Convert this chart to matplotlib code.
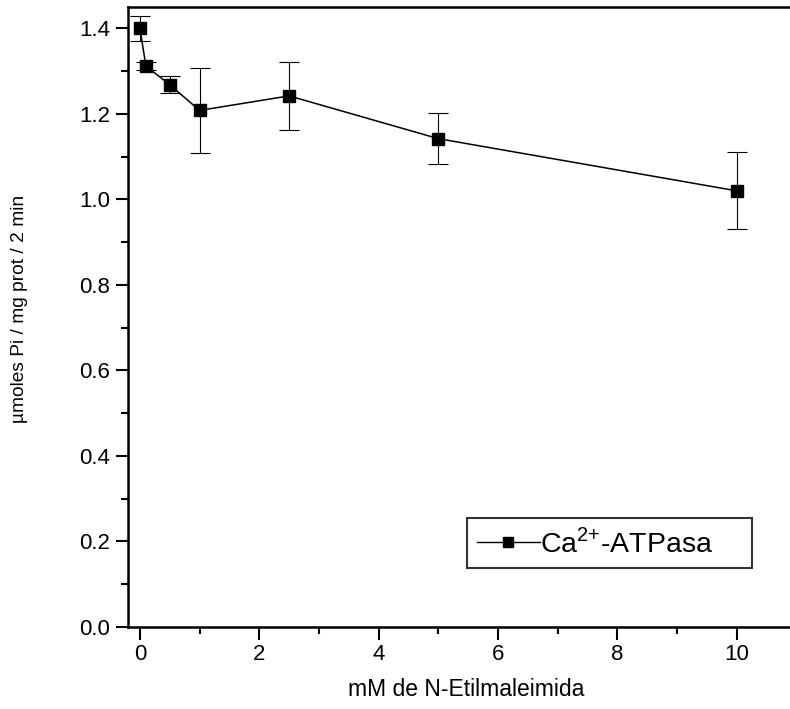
import matplotlib.pyplot as plt
from matplotlib.lines import Line2D
from matplotlib.ticker import MultipleLocator

plt.rcParams['font.family'] = ['Liberation Sans', 'DejaVu Sans']

# N-ethylmaleimide concentration (mM) and Ca2+-ATPase activity
nem_mM = [0, 0.1, 0.5, 1, 2.5, 5, 10]
activity = [1.40, 1.312, 1.268, 1.208, 1.242, 1.142, 1.020]
activity_err = [0.03, 0.01, 0.02, 0.10, 0.08, 0.06, 0.09]

fig = plt.figure(figsize=(7.9, 7.09), dpi=100)
ax = fig.add_axes([0.162, 0.1157, 0.846, 0.8745])

ax.errorbar(nem_mM, activity, yerr=activity_err, color='black', lw=1.1,
            marker='s', markersize=9, capsize=7, elinewidth=0.8, capthick=0.8)

ax.set_xlim(-0.2, 11.0)
ax.set_ylim(0.0, 1.45)
ax.xaxis.set_major_locator(MultipleLocator(2))
ax.xaxis.set_minor_locator(MultipleLocator(1))
ax.yaxis.set_major_locator(MultipleLocator(0.2))
ax.yaxis.set_minor_locator(MultipleLocator(0.1))
ax.yaxis.set_major_formatter(plt.FormatStrFormatter('%.1f'))

ax.tick_params(which='major', direction='out', length=9, width=1.5,
               labelsize=16, pad=3)
ax.tick_params(which='minor', direction='out', length=5, width=1.5)
ax.tick_params(axis='y', which='major', pad=4)
for side in ax.spines.values():
    side.set_linewidth(1.8)

ax.set_xlabel('mM de N-Etilmaleimida', fontsize=16.5)
ax.xaxis.set_label_coords(0.506, -0.083)
ax.set_ylabel('µmoles Pi / mg prot / 2 min', fontsize=13.8)
ax.yaxis.set_label_coords(-0.150, 0.513)

# legend shows line + small square only (no error bar)
handle = Line2D([], [], color='black', lw=1.0, marker='s', markersize=7)
leg = ax.legend([handle], [r'Ca$^{\mathregular{2{+}}}$-ATPasa'], loc='lower left',
                bbox_to_anchor=(0.5075, 0.0952, 0.4266, 0.084), mode='expand',
                fontsize=20.5, frameon=True, fancybox=False, edgecolor='black',
                handlelength=2.2, handletextpad=0.0, borderpad=0.35,
                borderaxespad=0)
leg.get_frame().set_linewidth(1.5)

fig.savefig('out.png', dpi=100)
